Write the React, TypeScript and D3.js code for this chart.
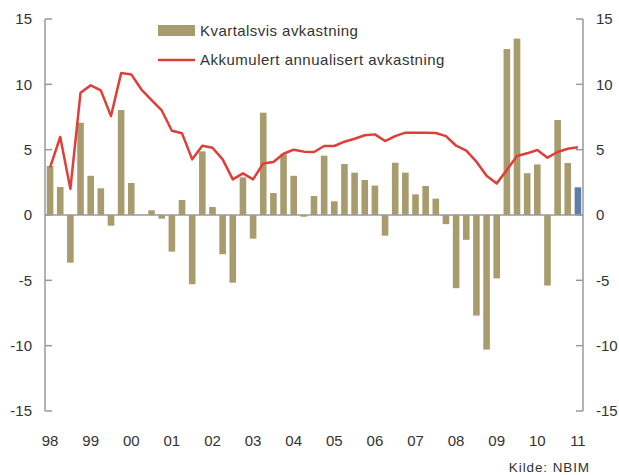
import React from "react";
import * as d3 from "d3";

const quarters: string[] = [];
for (let y = 1998; y <= 2011; y++) {
  for (let q = 1; q <= 4; q++) {
    if (y === 2011 && q > 1) break;
    quarters.push(`${y}Q${q}`);
  }
}

const quarterlyReturn = [
  3.75, 2.14, -3.65, 7.06,
  3.0, 2.04, -0.82, 8.03,
  2.45, 0.0, 0.36, -0.28,
  -2.8, 1.15, -5.3, 4.87,
  0.61, -3.0, -5.18, 2.88,
  -1.81, 7.83, 1.68, 4.64,
  3.0, -0.13, 1.45, 4.54,
  1.05, 3.9, 3.24, 2.68,
  2.25, -1.58, 4.0, 3.24,
  1.58, 2.22, 1.25, -0.7,
  -5.6, -1.9, -7.7, -10.3,
  -4.85, 12.7, 13.5, 3.2,
  3.87, -5.4, 7.27, 3.98,
  2.12,
];

const cumulativeAnnualised = [
  3.65, 5.97, 2.0, 9.36,
  9.92, 9.54, 7.57, 10.86,
  10.76, 9.6, 8.8, 8.0,
  6.45, 6.25, 4.26, 5.3,
  5.15, 4.26, 2.73, 3.19,
  2.73, 3.95, 4.05, 4.69,
  5.0, 4.85, 4.82, 5.28,
  5.28, 5.61, 5.84, 6.1,
  6.17, 5.66, 6.04, 6.3,
  6.3, 6.3, 6.27, 6.04,
  5.3, 4.92, 4.08, 3.0,
  2.42, 3.44, 4.51, 4.72,
  4.97, 4.39, 4.82, 5.07,
  5.18,
];

const yTicks = [-15, -10, -5, 0, 5, 10, 15];
const yearLabels = ["98", "99", "00", "01", "02", "03", "04", "05", "06", "07", "08", "09", "10", "11"];

const W = 619;
const H = 475;
const left = 45;
const right = 583;
const top = 19;
const bottom = 411;

const barColor = "#a89c6e";
const lastBarColor = "#5f7fa8";
const lineColor = "#e03e38";
const axisColor = "#9a9a9a";
const textColor = "#333333";
const font = "'Liberation Sans', Arial, sans-serif";

export default function App() {
  const x = d3
    .scaleBand<string>()
    .domain(quarters)
    .range([left, right])
    .paddingInner(0.35)
    .paddingOuter(0.175);
  const y = d3.scaleLinear().domain([-15, 15]).range([bottom, top]);
  const cx = (q: string) => (x(q) as number) + x.bandwidth() / 2;

  const line = d3
    .line<number>()
    .x((_, i) => cx(quarters[i]))
    .y((d) => y(d));

  return (
    <svg width={W} height={H} style={{ position: "absolute", left: 0, top: 0 }}>
      <rect width={W} height={H} fill="#ffffff" />
      {quarterlyReturn.map((v, i) => (
        <rect
          key={i}
          x={x(quarters[i])}
          width={x.bandwidth()}
          y={Math.min(y(v), y(0))}
          height={Math.abs(y(v) - y(0))}
          fill={i === quarterlyReturn.length - 1 ? lastBarColor : barColor}
        />
      ))}
      <line x1={left} x2={right} y1={y(0)} y2={y(0)} stroke={axisColor} strokeWidth={1.5} />
      <line x1={left} x2={left} y1={top} y2={bottom} stroke={axisColor} strokeWidth={1.5} />
      <line x1={right} x2={right} y1={top} y2={bottom} stroke={axisColor} strokeWidth={1.5} />
      {yTicks.map((t) => (
        <g key={t}>
          <line x1={left} x2={left + 7} y1={y(t)} y2={y(t)} stroke={axisColor} strokeWidth={1.5} />
          <line x1={right - 7} x2={right} y1={y(t)} y2={y(t)} stroke={axisColor} strokeWidth={1.5} />
          <text x={32} y={y(t)} dy="0.36em" textAnchor="end" fontFamily={font} fontSize={15} fill={textColor}>
            {t}
          </text>
          <text x={596} y={y(t)} dy="0.36em" textAnchor="start" fontFamily={font} fontSize={15} fill={textColor}>
            {t}
          </text>
        </g>
      ))}
      <path d={line(cumulativeAnnualised) || ""} fill="none" stroke={lineColor} strokeWidth={2.5} strokeLinejoin="round" />
      {yearLabels.map((lab, i) => (
        <text
          key={lab}
          x={cx(quarters[i * 4])}
          y={446}
          textAnchor="middle"
          fontFamily={font}
          fontSize={15}
          fill={textColor}
        >
          {lab}
        </text>
      ))}
      <rect x={158} y={25} width={37} height={11} fill={barColor} />
      <text x={200} y={36} fontFamily={font} fontSize={15} letterSpacing={0.45} fill={textColor}>
        Kvartalsvis avkastning
      </text>
      <line x1={158} x2={195} y1={60} y2={60} stroke={lineColor} strokeWidth={2.5} />
      <text x={200} y={65} fontFamily={font} fontSize={15} letterSpacing={0.5} fill={textColor}>
        Akkumulert annualisert avkastning
      </text>
      <text x={590} y={472} textAnchor="end" fontFamily={font} fontSize={13.5} letterSpacing={0.9} fill={textColor}>
        Kilde: NBIM
      </text>
    </svg>
  );
}
